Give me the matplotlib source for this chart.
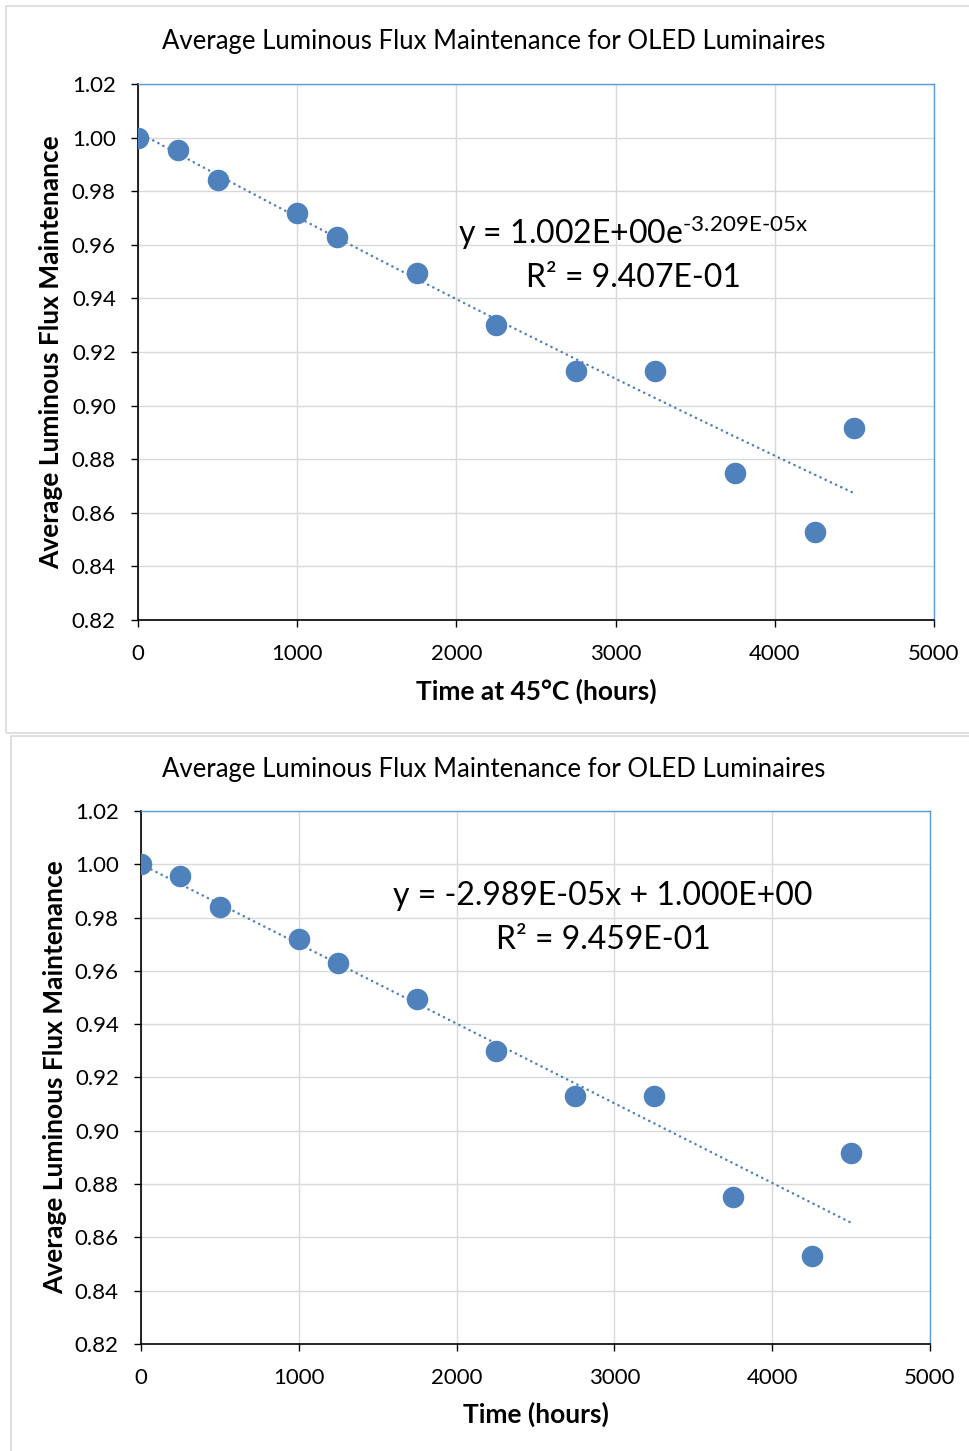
import numpy as np
import matplotlib
matplotlib.use("Agg")
import matplotlib.pyplot as plt
from matplotlib.patches import Rectangle

plt.rcParams['font.family'] = ['Lato', 'DejaVu Sans']
plt.rcParams['mathtext.fontset'] = 'custom'
plt.rcParams['mathtext.rm'] = 'Lato'
plt.rcParams['mathtext.it'] = 'Lato'
plt.rcParams['mathtext.bf'] = 'Lato:bold'

# ---------------- data ----------------
time_hours = [0, 250, 500, 1000, 1250, 1750, 2250, 2750, 3250, 3750, 4250, 4500]
flux_maint = [1.000, 0.9955, 0.984, 0.972, 0.963, 0.9495, 0.930, 0.913, 0.913, 0.875, 0.853, 0.8915]

exp_a, exp_b = 1.002, -3.209e-05        # y = a*exp(b x)
lin_m, lin_c = -2.989e-05, 1.000        # y = m x + c

title = "Average Luminous Flux Maintenance for OLED Luminaires"
ylabel = "Average Luminous Flux Maintenance"
xlabel_top = "Time at 45°C (hours)"
xlabel_bottom = "Time (hours)"
eq_top = [r"y = 1.002E+00e$^{\text{-3.209E-05x}}$", "R² = 9.407E-01"]
eq_bottom = ["y = -2.989E-05x + 1.000E+00", "R² = 9.459E-01"]
xticks = [0, 1000, 2000, 3000, 4000, 5000]
yticks = [0.82, 0.84, 0.86, 0.88, 0.90, 0.92, 0.94, 0.96, 0.98, 1.00, 1.02]

W, H = 969, 1451
fig = plt.figure(figsize=(W / 100, H / 100), dpi=100)

def fx(x): return x / W
def fy(y): return 1 - y / H

BLUE = '#4F81BD'

# chart-area frames
fig.patches.append(Rectangle((fx(6), fy(733)), fx(980 - 6), (733 - 6) / H,
                             transform=fig.transFigure, fill=False,
                             edgecolor='#D9D9D9', linewidth=1.2, zorder=0))
fig.patches.append(Rectangle((fx(11), fy(1460)), fx(980 - 11), (1460 - 736) / H,
                             transform=fig.transFigure, fill=False,
                             edgecolor='#D9D9D9', linewidth=1.2, zorder=0))

def make_axes(l, t, r, b, fit, xlabel, eq_lines, eq_x, eq_y, title_y, xl_y, yl_x):
    ax = fig.add_axes([fx(l), fy(b), (r - l) / W, (b - t) / H])
    ax.set_xlim(0, 5000)
    ax.set_ylim(0.82, 1.02)
    ax.set_xticks(xticks)
    ax.set_yticks(yticks)
    ax.set_yticklabels([f"{v:.2f}" for v in yticks])
    ax.grid(True, color='#D9D9D9', linewidth=1.0)
    ax.set_axisbelow(True)
    for s in ['left', 'bottom']:
        ax.spines[s].set_color('black')
        ax.spines[s].set_linewidth(1.2)
    for s in ['top', 'right']:
        ax.spines[s].set_color('#5B9BD5')
        ax.spines[s].set_linewidth(1.0)
    ax.tick_params(axis='both', direction='out', length=5, width=1.0,
                   labelsize=16, colors='black')
    ax.tick_params(axis='y', pad=11)
    ax.tick_params(axis='x', pad=12)
    ax.scatter(time_hours, flux_maint, s=15.5 ** 2, color=BLUE, zorder=3,
               linewidths=0)
    xs = np.linspace(0, max(time_hours), 200)
    ax.plot(xs, fit(xs), color=BLUE, linewidth=1.8,
            linestyle=(0, (0.1, 2.2)), dash_capstyle='round', zorder=2)
    fig.text(fx(494), fy(title_y), title, ha='center', va='center', fontsize=18.5)
    fig.text(fx(536), fy(xl_y), xlabel, ha='center', va='center', fontsize=19,
             fontweight='bold')
    fig.text(fx(yl_x), fy((t + b) / 2), ylabel, ha='center', va='center',
             fontsize=19, fontweight='bold', rotation=90)
    for i, line in enumerate(eq_lines):
        fig.text(fx(eq_x), fy(eq_y[i]), line, ha='center', va='center', fontsize=23)
    return ax

make_axes(138, 84, 934, 620, lambda x: exp_a * np.exp(exp_b * x), xlabel_top,
          eq_top, 633, [233, 278], 41, 691, 51)
make_axes(141, 811, 930, 1344, lambda x: lin_m * x + lin_c, xlabel_bottom,
          eq_bottom, 603, [896, 940], 769, 1414, 55)

fig.savefig('out.png', dpi=100, facecolor='white')
